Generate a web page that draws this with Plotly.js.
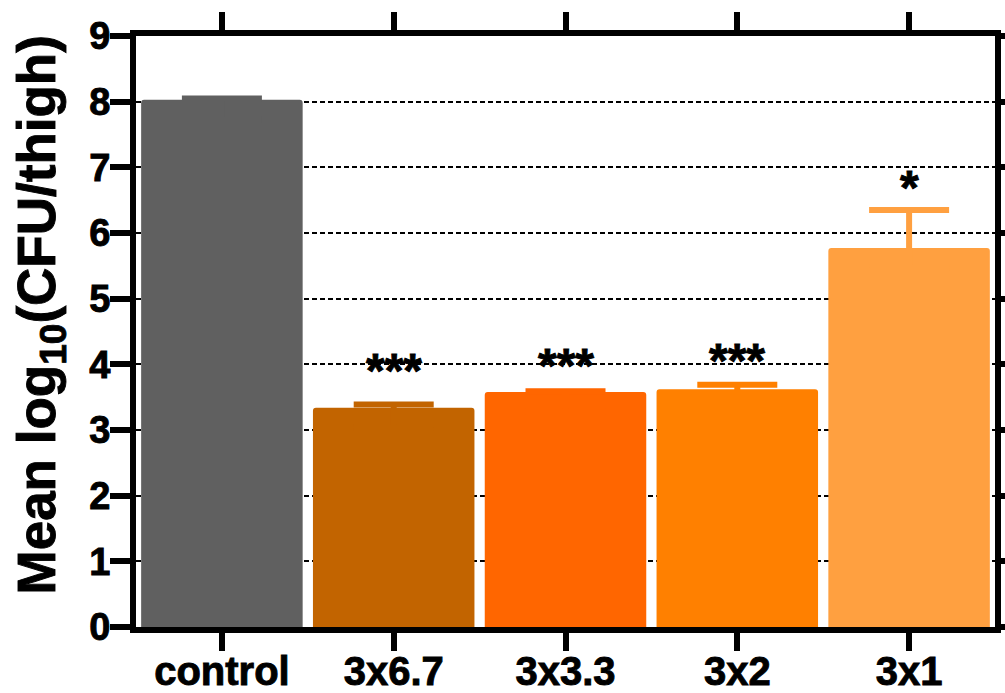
<!DOCTYPE html>
<html>
<head>
<meta charset="utf-8">
<script src="https://cdn.plot.ly/plotly-3.0.1.min.js"></script>
<style>
html,body{margin:0;padding:0;background:#fff;}
#chart{width:1005px;height:693px;}
#chart text{stroke:#000;stroke-width:0.9px;paint-order:stroke;}
</style>
</head>
<body>
<div id="chart"></div>
<script>
// Data
const categories = ["control", "3x6.7", "3x3.3", "3x2", "3x1"];
const meanValues = [8.03, 3.34, 3.58, 3.62, 5.77];
const errorPlus = [0.02, 0.05, 0.01, 0.07, 0.58];
const barColors = ["#606060", "#C26400", "#FF6600", "#FF8000", "#FFA040"];
const sigLabels = ["", "***", "***", "***", "*"];
const sigY = [null, 4.05, 4.12, 4.2, 6.83];
const yTickVals = [0, 1, 2, 3, 4, 5, 6, 7, 8, 9];
const yTitle = "Mean log<sub>10</sub>(CFU/thigh)";

const FONT = "Liberation Sans, Arial, Helvetica, sans-serif";

const traces = categories.map((c, i) => ({
  type: "bar",
  x: [c],
  y: [meanValues[i]],
  width: 0.94,
  marker: { color: barColors[i], line: { width: 0 }, cornerradius: 3 },
  error_y: {
    type: "data",
    symmetric: false,
    array: [errorPlus[i]],
    arrayminus: [0.3],   // lower half hidden inside the bar (same colour)
    color: barColors[i],
    thickness: 6,
    width: 40
  },
  showlegend: false,
  hoverinfo: "skip"
}));

const annotations = [];
categories.forEach((c, i) => {
  if (sigLabels[i]) {
    annotations.push({
      x: c, y: sigY[i], xref: "x", yref: "y",
      text: sigLabels[i], showarrow: false,
      xanchor: "center", yanchor: "middle",
      yshift: -9,
      font: { family: FONT, size: 48, color: "#000", weight: "bold" }
    });
  }
});
// y-axis title as a rotated annotation (lets it sit slightly above the plot centre)
annotations.push({
  text: yTitle, textangle: -90, showarrow: false,
  xref: "paper", yref: "paper", x: 0, y: 0.5,
  xanchor: "center", yanchor: "middle",
  xshift: -96, yshift: 16,
  font: { family: FONT, size: 53, color: "#000", weight: "bold" }
});

const layout = {
  width: 1005, height: 693,
  margin: { l: 136, r: 10, t: 36, b: 66, pad: 0 },
  paper_bgcolor: "#fff", plot_bgcolor: "#fff",
  barmode: "overlay",
  font: { family: FONT, color: "#000" },
  xaxis: {
    type: "category",
    categoryorder: "array", categoryarray: categories,
    range: [-0.5, 4.5],
    showline: true, linewidth: 6, linecolor: "#000",
    mirror: "ticks",
    ticks: "outside", ticklen: 18, tickwidth: 6, tickcolor: "#000",
    ticklabelstandoff: -14,
    tickfont: { family: FONT, size: 40, color: "#000", weight: "bold" },
    showgrid: false, zeroline: false, fixedrange: true
  },
  yaxis: {
    range: [0, 9],
    tickmode: "array", tickvals: yTickVals,
    showline: true, linewidth: 6, linecolor: "#000",
    mirror: "ticks",
    ticks: "outside", ticklen: 20, tickwidth: 6, tickcolor: "#000",
    ticklabelstandoff: -8,
    tickfont: { family: FONT, size: 38, color: "#000", weight: "bold" },
    showgrid: true, gridcolor: "#000", gridwidth: 2, griddash: "5px,3px",
    zeroline: false, fixedrange: true
  },
  annotations: annotations
};

Plotly.newPlot("chart", traces, layout, { staticPlot: true, displayModeBar: false });
</script>
</body>
</html>
